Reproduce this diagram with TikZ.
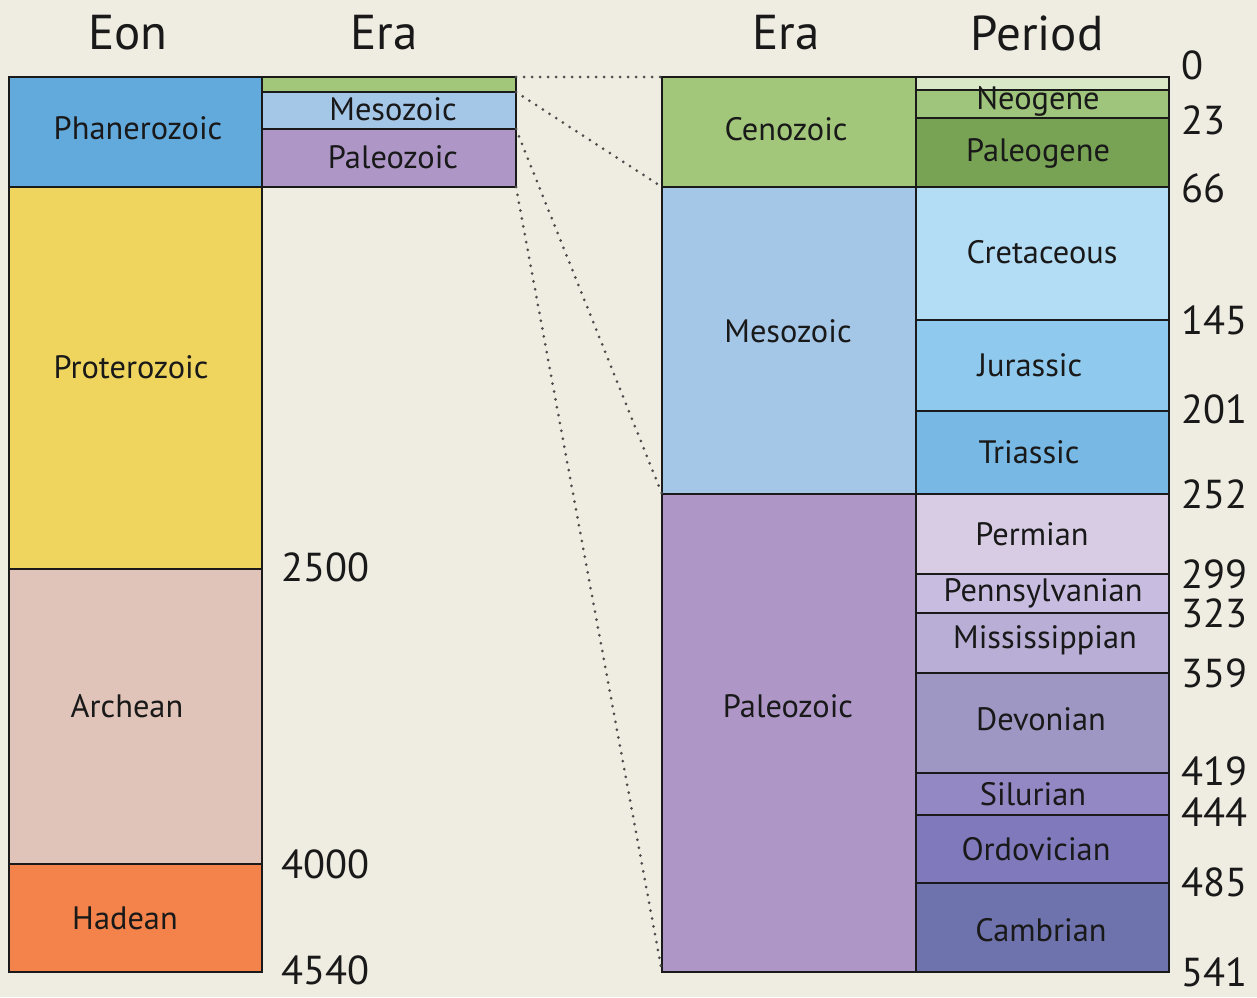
\documentclass[tikz,border=0pt]{standalone}
\usepackage{fontspec}
\setmainfont{PT Sans}
\definecolor{bg}{HTML}{EFECE1}
\definecolor{cPhan}{HTML}{62A9DC}
\definecolor{cProt}{HTML}{EFD45E}
\definecolor{cArch}{HTML}{E0C4B9}
\definecolor{cHad}{HTML}{F3834A}
\definecolor{cCen}{HTML}{A2C77B}
\definecolor{cMes}{HTML}{A4C6E7}
\definecolor{cPal}{HTML}{AE97C7}
\definecolor{cQua}{HTML}{D9E8C6}
\definecolor{cNeo}{HTML}{9FC47C}
\definecolor{cPgn}{HTML}{78A355}
\definecolor{cCre}{HTML}{B3DCF5}
\definecolor{cJur}{HTML}{8FCAEE}
\definecolor{cTri}{HTML}{77B8E4}
\definecolor{cPer}{HTML}{D7CCE4}
\definecolor{cPen}{HTML}{C8BDE0}
\definecolor{cMis}{HTML}{B8AED6}
\definecolor{cDev}{HTML}{9E97C4}
\definecolor{cSil}{HTML}{9387C4}
\definecolor{cOrd}{HTML}{8079BC}
\definecolor{cCam}{HTML}{6F73AD}
\definecolor{edge}{HTML}{1A1A1A}
\newcommand{\blk}[6]{%
  \node[blk, fill=#6, minimum width={(#4-#2)*0.5pt}, minimum height={(#5-#3)*0.5pt}] (#1) at ({(#2+#4)/2},{(#3+#5)/2}) {};}
\begin{document}
\begin{tikzpicture}[x=0.5pt,y=-0.5pt,
  blk/.style={draw=edge, line width=1.2pt, inner sep=0pt, outer sep=0pt, rectangle},
  lbl/.style={font=\fontsize{16.2}{19}\selectfont, inner sep=0pt, text=black!90},
  hdr/.style={font=\fontsize{24.5}{30}\selectfont, inner sep=0pt, text=black!90},
  num/.style={font=\fontsize{20.2}{25}\selectfont, inner sep=0pt, anchor=west, text=black!90},
  zoomline/.style={line width=1.5pt, line cap=round, dash pattern=on 0pt off 4pt, draw=black!70}]
\fill[bg] (0,0) rectangle (1257,997);
\useasboundingbox (0,0) rectangle (1257,997);
% headers
\node[hdr] (hEon) at (128,33) {Eon};
\node[hdr] (hEra1) at (384,33) {Era};
\node[hdr] (hEra2) at (786,33) {Era};
\node[hdr] (hPer) at (1037,33) {Period};
% eon column
\blk{phan}{9}{77}{262}{187}{cPhan}
\blk{prot}{9}{187}{262}{569}{cProt}
\blk{arch}{9}{569}{262}{864}{cArch}
\blk{had}{9}{864}{262}{972}{cHad}
% small era column
\blk{eCen}{262}{77}{516}{92}{cCen}
\blk{eMes}{262}{92}{516}{129}{cMes}
\blk{ePal}{262}{129}{516}{187}{cPal}
% right era column
\blk{cen}{662}{77}{916}{187}{cCen}
\blk{mes}{662}{187}{916}{494}{cMes}
\blk{pal}{662}{494}{916}{972}{cPal}
% periods
\blk{qua}{916}{77}{1169}{90}{cQua}
\blk{neo}{916}{90}{1169}{118}{cNeo}
\blk{pgn}{916}{118}{1169}{187}{cPgn}
\blk{cre}{916}{187}{1169}{320}{cCre}
\blk{jur}{916}{320}{1169}{411}{cJur}
\blk{tri}{916}{411}{1169}{494}{cTri}
\blk{per}{916}{494}{1169}{574}{cPer}
\blk{pen}{916}{574}{1169}{613}{cPen}
\blk{mis}{916}{613}{1169}{673}{cMis}
\blk{dev}{916}{673}{1169}{773}{cDev}
\blk{sil}{916}{773}{1169}{815}{cSil}
\blk{ord}{916}{815}{1169}{883}{cOrd}
\blk{cam}{916}{883}{1169}{972}{cCam}
% labels
\node[lbl] (tPhan) at (138,128) {Phanerozoic};
\node[lbl] (tProt) at (131,367) {Proterozoic};
\node[lbl] (tArch) at (127,706) {Archean};
\node[lbl] (tHad) at (125,918) {Hadean};
\node[lbl] (tEMes) at (393,109) {Mesozoic};
\node[lbl] (tEPal) at (393,157) {Paleozoic};
\node[lbl] (tCen) at (786,129) {Cenozoic};
\node[lbl] (tMes) at (788,331) {Mesozoic};
\node[lbl] (tPal) at (788,706) {Paleozoic};
\node[lbl] (tNeo) at (1038,101) {Neogene};
\node[lbl] (tPgn) at (1038,153) {Paleogene};
\node[lbl] (tCre) at (1042,252) {Cretaceous};
\node[lbl] (tJur) at (1030,365) {Jurassic};
\node[lbl] (tTri) at (1029,452) {Triassic};
\node[lbl] (tPer) at (1032,534) {Permian};
\node[lbl] (tPen) at (1043,593) {Pennsylvanian};
\node[lbl] (tMis) at (1045,640) {Mississippian};
\node[lbl] (tDev) at (1041,719) {Devonian};
\node[lbl] (tSil) at (1033,794) {Silurian};
\node[lbl] (tOrd) at (1036,849) {Ordovician};
\node[lbl] (tCam) at (1041,930) {Cambrian};
% numbers
\node[num] (n2500) at (281,567) {2500};
\node[num] (n4000) at (281,864) {4000};
\node[num] (n4540) at (281,970) {4540};
\node[num] (n0) at (1181,65) {0};
\node[num] (n23) at (1181,120) {23};
\node[num] (n66) at (1181,188) {66};
\node[num] (n145) at (1181,320) {145};
\node[num] (n201) at (1181,409) {201};
\node[num] (n252) at (1181,494) {252};
\node[num] (n299) at (1181,574) {299};
\node[num] (n323) at (1181,613) {323};
\node[num] (n359) at (1181,673) {359};
\node[num] (n419) at (1181,771) {419};
\node[num] (n444) at (1181,812) {444};
\node[num] (n485) at (1181,882) {485};
\node[num] (n541) at (1181,972) {541};
% zoom lines
\draw[zoomline] (eCen.north east) -- (cen.north west);
\draw[zoomline] (eMes.north east) -- (mes.north west);
\draw[zoomline] (ePal.north east) -- (pal.north west);
\draw[zoomline] (ePal.south east) -- (pal.south west);
\end{tikzpicture}
\end{document}
